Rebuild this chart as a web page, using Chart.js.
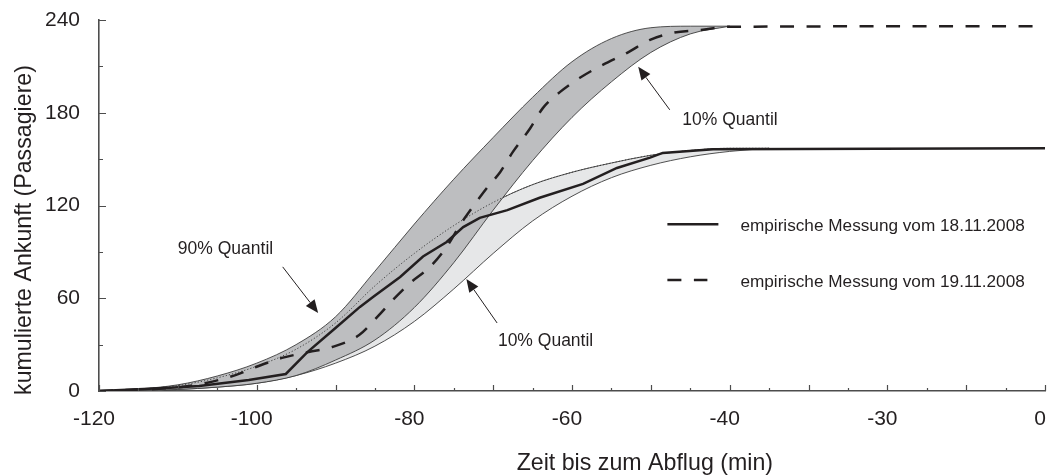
<!DOCTYPE html>
<html>
<head>
<meta charset="utf-8">
<script src="https://cdn.jsdelivr.net/npm/chart.js@4.4.1/dist/chart.umd.min.js"></script>
<style>
  html, body { margin: 0; padding: 0; background: #ffffff; }
  #wrap { width: 1054px; height: 475px; }
</style>
</head>
<body>
<div id="wrap"><canvas id="chart" width="1054" height="475"></canvas></div>
<script>
// ---- data (time before departure in minutes, cumulative arrivals in passengers) ----
const xTickLabels = ['-120', '-100', '-80', '-60', '-40', '-30', '0'];

// quantile band, flight of 18.11.2008
const bandTime18 = [-120, -115, -110, -105, -100, -95, -90, -85, -80, -75, -70, -65, -60, -55, -50, -45, -40, -35];
const q90_18 = [0, 1.2, 3.5, 8.5, 16, 27, 44, 68, 89, 107, 122, 133.5, 141.5, 147.5, 152.5, 155.6, 157, 157];
const q10_18 = [0, 0.3, 1, 2.5, 5, 10, 18, 29, 45, 66, 89, 110, 126, 138, 146, 151.5, 155, 157];

// quantile band, flight of 19.11.2008
const bandTime19 = [-120, -115, -110, -105, -100, -95, -90, -85, -80, -75, -70, -65, -60, -55, -50, -45, -40];
const q90_19 = [0, 1.3, 4, 9.7, 18, 30, 48, 77.5, 108, 137, 164, 190, 213, 228, 235, 236, 236];
const q10_19 = [0, 0.3, 1, 2.5, 5, 10, 20, 33, 54, 83, 117, 149, 177, 200, 219, 231, 236];

// empirical measurement 18.11.2008
const time18 = [-120, -111.5, -107.3, -101, -96.3, -93.6, -90, -86.9, -85.2, -81.8, -78.9, -75.9, -73.8, -71.7, -68.2, -64.1, -58.6, -54.3, -50.1, -48.5, -42.1, 0];
const meas18 = [0, 1.9, 3.2, 7.1, 11, 25, 40.8, 54.4, 61, 73.8, 87, 96.4, 106, 112, 117, 125, 134, 144.3, 151, 154, 156.4, 157];

// empirical measurement 19.11.2008
const time19 = [-120, -109.5, -106.4, -102.6, -100.1, -96.8, -93.4, -90.4, -87, -84.7, -82.7, -80.5, -78, -75.9, -74.2, -72.6, -70.8, -69.1, -67.5, -65.3, -63.7, -61.5, -59, -56.1, -53, -50.1, -47.2, -43.4, -40.3, 0];
const meas19 = [0, 2.6, 5.2, 10.4, 15.5, 21.4, 25.2, 28.5, 36.2, 47.9, 59, 70, 80.3, 93.2, 107.4, 119, 131.3, 141.7, 154.7, 170, 183, 193.5, 202.6, 211, 218.8, 227.2, 231.7, 233.7, 235.6, 236];

const seriesLabels = ['empirische Messung vom 18.11.2008', 'empirische Messung vom 19.11.2008'];

// annotation texts with arrow (in data units)
const noteTexts = ['90% Quantil', '10% Quantil', '10% Quantil'];
const noteTextPos = [[-110, 88.7], [-69.4, 29.1], [-46.0, 172.2]];
const noteArrowFrom = [[-96.7, 80.3], [-69.5, 44], [-47.6, 181.9]];
const noteArrowTo = [[-92.2, 50.5], [-73.4, 72.5], [-51.6, 209.7]];

// ---- styles ----
const FONT = "'Liberation Sans', Arial, sans-serif";
const INK = '#231f20';
const AXIS = '#4d4d4d';
const EDGE = '#3c3c3c';
const LIGHT_FILL = '#e6e7e8';
const DARK_FILL = '#bdbec0';
const DASH = [14, 12.5];

const zip = (xs, ys) => xs.map((x, i) => ({ x: x, y: ys[i] }));

const decor = {
  id: 'decor',
  afterDraw(chart) {
    const { ctx, scales: { x, y }, chartArea: a } = chart;
    ctx.save();

    // inward tick marks
    ctx.strokeStyle = AXIS;
    ctx.lineWidth = 1.2;
    ctx.beginPath();
    for (let v = -120; v <= 0; v += 5) {
      const px = Math.round(x.getPixelForValue(v)) + 0.5;
      const len = (v % 10 === 0) ? 6 : 3;
      ctx.moveTo(px, a.bottom);
      ctx.lineTo(px, a.bottom - len);
    }
    for (let v = 0; v <= 240; v += 30) {
      const py = Math.round(y.getPixelForValue(v)) + 0.5;
      const len = (v % 60 === 0) ? 7 : 4;
      ctx.moveTo(a.left, py);
      ctx.lineTo(a.left + len, py);
    }
    ctx.stroke();

    // quantile notes with arrows
    ctx.fillStyle = INK;
    ctx.strokeStyle = INK;
    ctx.font = '17.5px ' + FONT;
    ctx.textBaseline = 'alphabetic';
    ctx.textAlign = 'left';
    noteTexts.forEach((t, i) => {
      ctx.fillText(t, x.getPixelForValue(noteTextPos[i][0]), y.getPixelForValue(noteTextPos[i][1]));
      const x0 = x.getPixelForValue(noteArrowFrom[i][0]);
      const y0 = y.getPixelForValue(noteArrowFrom[i][1]);
      const x1 = x.getPixelForValue(noteArrowTo[i][0]);
      const y1 = y.getPixelForValue(noteArrowTo[i][1]);
      const ang = Math.atan2(y1 - y0, x1 - x0);
      const hl = 13, hw = 5.5;
      const bx = x1 - hl * Math.cos(ang), by = y1 - hl * Math.sin(ang);
      ctx.lineWidth = 1;
      ctx.beginPath();
      ctx.moveTo(x0, y0);
      ctx.lineTo(bx, by);
      ctx.stroke();
      ctx.beginPath();
      ctx.moveTo(x1, y1);
      ctx.lineTo(bx + hw * Math.sin(ang), by - hw * Math.cos(ang));
      ctx.lineTo(bx - hw * Math.sin(ang), by + hw * Math.cos(ang));
      ctx.closePath();
      ctx.fill();
    });

    // legend
    const lx0 = x.getPixelForValue(-47.9);
    const rows = [{ ds: 5, y: 107.9, len: 51 }, { ds: 6, y: 71.8, len: 40 }];
    rows.forEach((r) => {
      const d = chart.data.datasets[r.ds];
      const py = y.getPixelForValue(r.y);
      ctx.strokeStyle = d.borderColor;
      ctx.lineWidth = d.borderWidth;
      ctx.setLineDash(d.borderDash || []);
      ctx.beginPath();
      ctx.moveTo(lx0, py);
      ctx.lineTo(lx0 + r.len, py);
      ctx.stroke();
      ctx.setLineDash([]);
      ctx.fillStyle = INK;
      ctx.font = '17.2px ' + FONT;
      ctx.textBaseline = 'middle';
      ctx.fillText(d.label, lx0 + 73, py + 2);
    });

    // axis titles
    ctx.fillStyle = INK;
    ctx.font = '23.2px ' + FONT;
    ctx.textAlign = 'center';
    ctx.textBaseline = 'alphabetic';
    ctx.fillText('Zeit bis zum Abflug (min)', a.left + 0.577 * (a.right - a.left), 470);
    ctx.save();
    ctx.translate(31, a.top + 0.566 * (a.bottom - a.top));
    ctx.rotate(-Math.PI / 2);
    ctx.fillText('kumulierte Ankunft (Passagiere)', 0, 0);
    ctx.restore();

    ctx.restore();
  }
};

const edgeStyle = { borderColor: EDGE, borderWidth: 0.9, pointRadius: 0, cubicInterpolationMode: 'monotone' };

// scale boxes get exact sizes, without extra label overhang padding
const fixBox = (w, h) => (s) => {
  if (w !== null) s.width = w;
  if (h !== null) s.height = h;
  s.paddingTop = 0; s.paddingBottom = 0; s.paddingLeft = 0; s.paddingRight = 0;
};

new Chart(document.getElementById('chart'), {
  type: 'line',
  data: {
    datasets: [
      Object.assign({ label: '90% Quantil 18.11.', data: zip(bandTime18, q90_18), fill: 1, backgroundColor: LIGHT_FILL, order: 60 }, edgeStyle),
      Object.assign({ label: '10% Quantil 18.11.', data: zip(bandTime18, q10_18), fill: false, order: 50 }, edgeStyle),
      Object.assign({ label: '90% Quantil 19.11.', data: zip(bandTime19, q90_19), fill: 3, backgroundColor: DARK_FILL, order: 40 }, edgeStyle),
      Object.assign({ label: '10% Quantil 19.11.', data: zip(bandTime19, q10_19), fill: false, order: 30 }, edgeStyle),
      Object.assign({ label: '90% Quantil 18.11. (verdeckt)', data: zip(bandTime18, q90_18), fill: false, order: 20 }, edgeStyle, { borderDash: [1.2, 2], borderColor: '#333333', borderWidth: 0.9 }),
      { label: seriesLabels[0], data: zip(time18, meas18), borderColor: INK, borderWidth: 2.5, pointRadius: 0, tension: 0, fill: false, order: 10 },
      { label: seriesLabels[1], data: zip(time19, meas19), borderColor: INK, borderWidth: 2.5, borderDash: DASH, pointRadius: 0, cubicInterpolationMode: 'monotone', fill: false, order: 5 }
    ]
  },
  options: {
    responsive: false,
    devicePixelRatio: 1,
    animation: false,
    events: [],
    layout: { padding: { top: 20, right: 9, left: 0, bottom: 0 } },
    plugins: { legend: { display: false }, tooltip: { enabled: false } },
    scales: {
      x: {
        type: 'linear',
        min: -120,
        max: 0,
        grid: { display: false, drawTicks: false },
        border: { display: true, color: AXIS, width: 1.6 },
        ticks: {
          stepSize: 20,
          padding: 16,
          labelOffset: -5,
          maxRotation: 0,
          color: INK,
          font: { family: FONT, size: 21 },
          callback: (v) => xTickLabels[Math.round((v + 120) / 20)]
        },
        afterFit: fixBox(null, 84)
      },
      y: {
        type: 'linear',
        min: 0,
        max: 240,
        grid: { display: false, drawTicks: false },
        border: { display: true, color: AXIS, width: 1.6 },
        ticks: {
          stepSize: 60,
          padding: 19,
          color: INK,
          font: { family: FONT, size: 21 }
        },
        afterFit: fixBox(99, null)
      }
    }
  },
  plugins: [decor]
});
</script>
</body>
</html>
